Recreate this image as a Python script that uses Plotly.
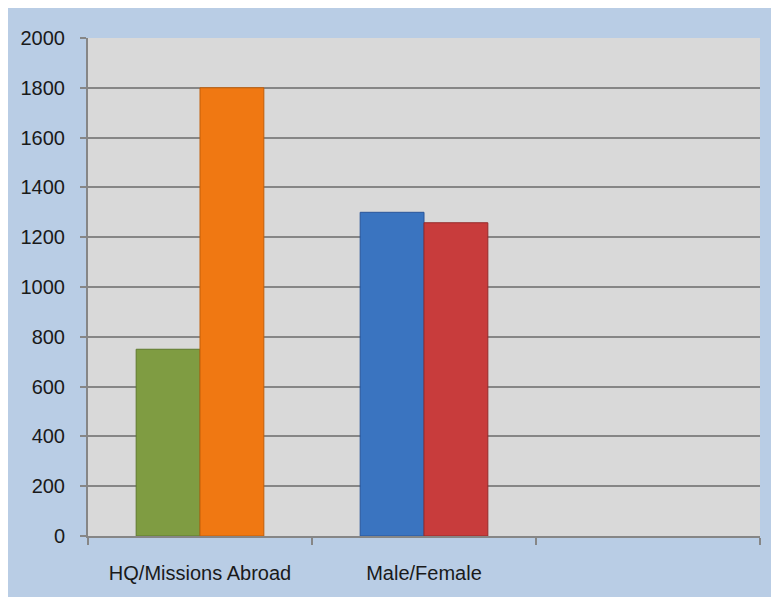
import plotly.graph_objects as go

categories = ["HQ/Missions Abroad", "Male/Female", " "]
series_a = [750, 1300, None]     # HQ / Male
series_b = [1800, 1258, None]    # Missions Abroad / Female
colors_a = ["#7F9C42", "#3A74C0", "#3A74C0"]
colors_b = ["#F07812", "#C83C3C", "#C83C3C"]
line_a = ["#5F7A2E", "#2A569A", "#2A569A"]
line_b = ["#C05E0A", "#962A2A", "#962A2A"]
y_ticks = list(range(0, 2001, 200))

W, H = 779, 597
L, T = 77, 30
pw, ph = 675, 498
R, B = W - L - pw, H - T - ph

fig = go.Figure()
fig.add_trace(go.Bar(x=categories, y=series_a, marker=dict(color=colors_a, line=dict(color=line_a, width=1)), showlegend=False))
fig.add_trace(go.Bar(x=categories, y=series_b, marker=dict(color=colors_b, line=dict(color=line_b, width=1)), showlegend=False))

font = dict(family="Liberation Sans", size=20, color="#1a1a1a")

fig.update_layout(
    width=W, height=H,
    margin=dict(l=L, r=R, t=T, b=B, pad=0),
    paper_bgcolor="#B9CDE5",
    plot_bgcolor="#D9D9D9",
    barmode="group", bargap=0.43, bargroupgap=0,
    font=font,
)
fig.update_xaxes(type="category", categoryorder="array", categoryarray=categories,
                 range=[-0.5, 2.5], tickson="boundaries", ticks="outside", ticklen=7,
                 tickwidth=2, tickcolor="#868686", showline=True, linecolor="#868686",
                 linewidth=2, showgrid=False, ticklabelstandoff=18, tickfont=font)
fig.update_yaxes(range=[0, 2000], tickvals=y_ticks, ticks="outside", ticklen=6,
                 tickwidth=2, tickcolor="#868686", showline=True, linecolor="#868686",
                 linewidth=2, showgrid=True, gridcolor="#868686", gridwidth=2,
                 zeroline=False, ticklabelstandoff=11, tickfont=font)

fig.write_html("out.html")
